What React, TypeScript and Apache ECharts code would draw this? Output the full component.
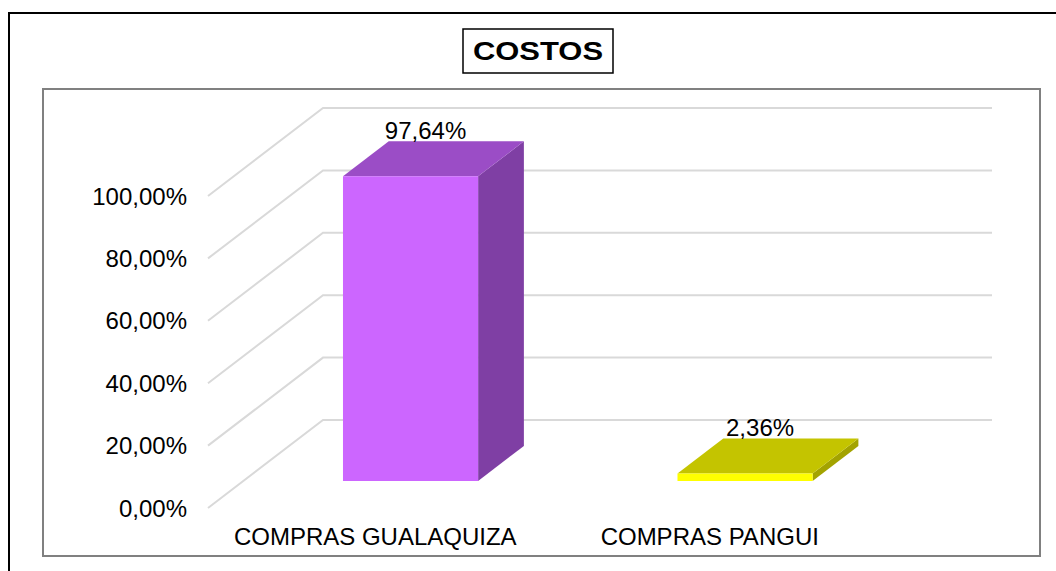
import React, { useEffect, useRef } from "react";
import * as echarts from "echarts";

const categories = ["COMPRAS GUALAQUIZA", "COMPRAS PANGUI"];
const values = [97.64, 2.36];
const tickValues = [0, 20, 40, 60, 80, 100];
const titleText = "COSTOS";

const FONT = '"Liberation Sans", Arial, sans-serif';
const DX = 115;
const DY = -88;
const D1 = 0.307;
const D2 = 0.705;
const BAR_FRAC = 0.404;

const palettes = [
  { front: "#CC66FF", top: "#9B4DC6", side: "#7F3FA4" },
  { front: "#FFFF00", top: "#C4C400", side: "#A3A300" },
];

const fmt = (v: number) => v.toFixed(2).replace(".", ",") + "%";

export default function App() {
  const ref = useRef<HTMLDivElement>(null);
  useEffect(() => {
    if (!ref.current) return;
    const chart = echarts.init(ref.current, null, { renderer: "svg" });
    chart.setOption({
      animation: false,
      backgroundColor: "#ffffff",
      grid: { left: 208, top: 196, width: 669, height: 312, containLabel: false },
      xAxis: {
        type: "category",
        data: categories,
        axisLine: { show: false },
        axisTick: { show: false },
        splitLine: { show: false },
        axisLabel: {
          interval: 0,
          hideOverlap: false,
          fontSize: 24,
          color: "#000",
          fontFamily: FONT,
          margin: 16,
        },
      },
      yAxis: {
        type: "value",
        min: 0,
        max: 100,
        interval: 20,
        axisLine: { show: false },
        axisTick: { show: false },
        splitLine: { show: false },
        axisLabel: {
          fontSize: 24,
          color: "#000",
          fontFamily: FONT,
          margin: 21,
          formatter: (v: number) => fmt(v),
        },
      },
      graphic: [
        {
          type: "rect",
          silent: true,
          shape: { x: 9, y: 13, width: 1070, height: 580 },
          style: { fill: "none", stroke: "#000", lineWidth: 2 },
          z: 0,
        },
        {
          type: "rect",
          silent: true,
          shape: { x: 43, y: 89, width: 997, height: 467 },
          style: { fill: "none", stroke: "#808080", lineWidth: 2 },
          z: 0,
        },
        {
          type: "rect",
          silent: true,
          shape: { x: 463, y: 29, width: 150, height: 44 },
          style: { fill: "#fff", stroke: "#000", lineWidth: 1.5 },
          z: 0,
        },
        {
          type: "text",
          silent: true,
          x: 538,
          y: 51,
          scaleX: 1.19,
          style: {
            text: titleText,
            fontSize: 26,
            fontWeight: "bold",
            fontFamily: FONT,
            fill: "#000",
            align: "center",
            verticalAlign: "middle",
          },
          z: 1,
        },
      ],
      series: [
        {
          type: "custom",
          z: 1,
          clip: false,
          silent: true,
          data: tickValues.map((v) => [0, v]),
          renderItem: (params: any, api: any) => {
            const cs = params.coordSys;
            const p = api.coord([0, api.value(1)]);
            const y = p[1];
            const x0 = cs.x;
            const x1 = cs.x + cs.width;
            return {
              type: "polyline",
              shape: {
                points: [
                  [x0, y],
                  [x0 + DX, y + DY],
                  [x1 + DX, y + DY],
                ],
              },
              style: { stroke: "#d9d9d9", lineWidth: 2, fill: "none" },
            };
          },
        },
        {
          type: "custom",
          z: 2,
          clip: false,
          silent: true,
          data: values.map((v, i) => [i, v]),
          renderItem: (params: any, api: any) => {
            const idx = api.value(0);
            const val = api.value(1);
            const base = api.coord([idx, 0]);
            const top = api.coord([idx, val]);
            const band = api.size([1, 0])[0];
            const w = band * BAR_FRAC;
            const x0 = base[0] - w / 2 + DX * D1;
            const x1 = x0 + w;
            const yb = base[1] + DY * D1;
            const yt = top[1] + DY * D1;
            const ddx = DX * (D2 - D1);
            const ddy = DY * (D2 - D1);
            const pal = palettes[idx % palettes.length];
            return {
              type: "group",
              children: [
                {
                  type: "polygon",
                  shape: { points: [[x1, yt], [x1 + ddx, yt + ddy], [x1 + ddx, yb + ddy], [x1, yb]] },
                  style: { fill: pal.side },
                },
                {
                  type: "polygon",
                  shape: { points: [[x0, yt], [x0 + ddx, yt + ddy], [x1 + ddx, yt + ddy], [x1, yt]] },
                  style: { fill: pal.top },
                },
                {
                  type: "rect",
                  shape: { x: x0, y: yt, width: w, height: yb - yt },
                  style: { fill: pal.front },
                },
                {
                  type: "text",
                  style: {
                    text: fmt(val),
                    x: (x0 + x1) / 2 + 15,
                    y: yt + ddy - 11,
                    align: "center",
                    verticalAlign: "middle",
                    fontSize: 24,
                    fontFamily: FONT,
                    fill: "#000",
                  },
                },
              ],
            };
          },
        },
      ],
    });
    return () => chart.dispose();
  }, []);
  return (
    <div
      ref={ref}
      style={{ position: "fixed", left: 0, top: 0, width: 1056, height: 571 }}
    />
  );
}
